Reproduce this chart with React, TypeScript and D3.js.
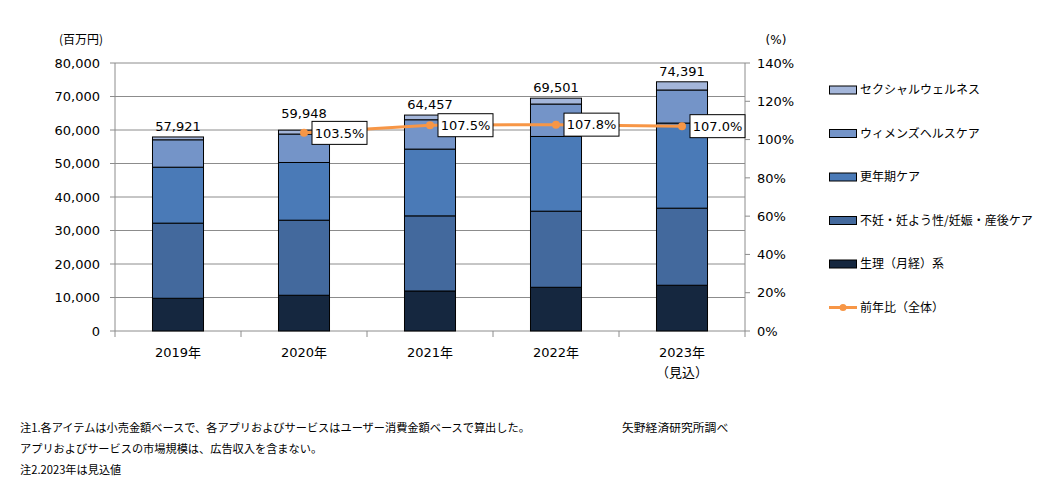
import { useEffect, useRef } from "react";
import * as d3 from "d3";

const YEARS = ["2019年", "2020年", "2021年", "2022年", "2023年"];
const YEAR_SUB = ["", "", "", "", "（見込）"];

const SERIES_NAMES = [
  "生理（月経）系",
  "不妊・妊よう性/妊娠・産後ケア",
  "更年期ケア",
  "ウィメンズヘルスケア",
  "セクシャルウェルネス",
];
const SEIRI = [9770, 10670, 11950, 13050, 13660];
const FUNIN = [22430, 22410, 22420, 22720, 23010];
const KONENKI = [16700, 17220, 19930, 22300, 25400];
const WOMENS = [8180, 8490, 8760, 9680, 9870];
const SEXUAL = [841, 1158, 1397, 1751, 2451];
const TOTALS = ["57,921", "59,948", "64,457", "69,501", "74,391"];
const GROWTH: (number | null)[] = [null, 103.5, 107.5, 107.8, 107.0];
const LINE_NAME = "前年比（全体）";

const COLORS = ["#15273f", "#43699d", "#4a7ab7", "#7494c8", "#a4b6da"];
const ORANGE = "#f79646";
const GRID = "#8c8c8c";

const NOTES = [
  "注1.各アイテムは小売金額ベースで、各アプリおよびサービスはユーザー消費金額ベースで算出した。",
  "アプリおよびサービスの市場規模は、広告収入を含まない。",
  "注2.2023年は見込値",
];
const SOURCE = "矢野経済研究所調べ";

const FONT = "'DejaVu Sans', 'Noto Sans CJK JP', sans-serif";
const JP = "'Noto Sans CJK JP', sans-serif";

export default function App() {
  const ref = useRef<SVGSVGElement>(null);

  useEffect(() => {
    document.body.style.margin = "0";
    if (!ref.current) return;
    const width = 1054;
    const height = 487;
    const plot = { left: 115, right: 745, top: 63, bottom: 331 };

    const svg = d3.select(ref.current);
    svg.selectAll("*").remove();
    svg.attr("width", width).attr("height", height);

    const x = d3.scaleBand().domain(YEARS).range([plot.left, plot.right]);
    const y = d3.scaleLinear().domain([0, 80000]).range([plot.bottom, plot.top]);
    const y2 = d3.scaleLinear().domain([0, 140]).range([plot.bottom, plot.top]);
    const barW = x.bandwidth() * 0.405;

    // gridlines
    svg
      .append("g")
      .selectAll("line")
      .data(y.ticks(8))
      .join("line")
      .attr("x1", plot.left - 5)
      .attr("x2", plot.right)
      .attr("y1", (d) => y(d))
      .attr("y2", (d) => y(d))
      .attr("stroke", GRID)
      .attr("stroke-width", 1);

    // axes lines
    svg.append("line").attr("x1", plot.left).attr("x2", plot.left).attr("y1", plot.top).attr("y2", plot.bottom + 6).attr("stroke", GRID);
    svg.append("line").attr("x1", plot.right).attr("x2", plot.right).attr("y1", plot.top).attr("y2", plot.bottom + 6).attr("stroke", GRID);

    // x ticks at band boundaries
    svg
      .append("g")
      .selectAll("line")
      .data(YEARS.slice(1))
      .join("line")
      .attr("x1", (d) => x(d) ?? 0)
      .attr("x2", (d) => x(d) ?? 0)
      .attr("y1", plot.bottom)
      .attr("y2", plot.bottom + 6)
      .attr("stroke", GRID);

    // right ticks
    svg
      .append("g")
      .selectAll("line")
      .data(d3.range(0, 141, 20))
      .join("line")
      .attr("x1", plot.right)
      .attr("x2", plot.right + 5)
      .attr("y1", (d) => y2(d))
      .attr("y2", (d) => y2(d))
      .attr("stroke", GRID);

    // left tick labels
    svg
      .append("g")
      .selectAll("text")
      .data(y.ticks(8))
      .join("text")
      .attr("x", plot.left - 15)
      .attr("y", (d) => y(d))
      .attr("dy", "0.36em")
      .attr("text-anchor", "end")
      .attr("font-family", FONT)
      .attr("font-size", 13)
      .attr("fill", "#000")
      .text((d) => d3.format(",")(d));

    // right tick labels
    svg
      .append("g")
      .selectAll("text")
      .data(d3.range(0, 141, 20))
      .join("text")
      .attr("x", plot.right + 12)
      .attr("y", (d) => y2(d))
      .attr("dy", "0.36em")
      .attr("font-family", FONT)
      .attr("font-size", 13)
      .attr("fill", "#000")
      .text((d) => `${d}%`);

    svg.append("text").attr("x", 81).attr("y", 44).attr("text-anchor", "middle").attr("font-family", JP).attr("font-size", 12).text("(百万円)");
    svg.append("text").attr("x", 776).attr("y", 44).attr("text-anchor", "middle").attr("font-family", FONT).attr("font-size", 12).text("(%)");

    // x labels
    const xl = svg.append("g").attr("font-family", FONT).attr("font-size", 13).attr("text-anchor", "middle");
    xl.selectAll("text.yr")
      .data(YEARS)
      .join("text")
      .attr("class", "yr")
      .attr("x", (d) => (x(d) ?? 0) + x.bandwidth() / 2)
      .attr("y", 357)
      .text((d) => d);
    xl.selectAll("text.sub")
      .data(YEAR_SUB)
      .join("text")
      .attr("class", "sub")
      .attr("x", (_, i) => (x(YEARS[i]) ?? 0) + x.bandwidth() / 2)
      .attr("y", 377)
      .text((d) => d);

    // stacked bars
    const values = [SEIRI, FUNIN, KONENKI, WOMENS, SEXUAL];
    const rows = YEARS.map((yr, i) => {
      const r: Record<string, number | string> = { year: yr };
      SERIES_NAMES.forEach((n, k) => (r[n] = values[k][i]));
      return r;
    });
    const stack = d3.stack<Record<string, number | string>>().keys(SERIES_NAMES)(rows);

    svg
      .append("g")
      .selectAll("g")
      .data(stack)
      .join("g")
      .attr("fill", (_, i) => COLORS[i])
      .selectAll("rect")
      .data((d) => d)
      .join("rect")
      .attr("x", (d) => (x(d.data.year as string) ?? 0) + (x.bandwidth() - barW) / 2)
      .attr("width", barW)
      .attr("y", (d) => y(d[1]))
      .attr("height", (d) => y(d[0]) - y(d[1]))
      .attr("stroke", "#000")
      .attr("stroke-width", 1);

    // totals: sit just above the bar, but clear of a growth label box
    const tops = stack[stack.length - 1];
    const labelY = (d: d3.SeriesPoint<Record<string, number | string>>, i: number) => {
      let yy = y(d[1]) - 6;
      const g = GROWTH[i];
      if (g !== null) yy = Math.min(yy, y2(g) - 15);
      return yy;
    };
    svg
      .append("g")
      .selectAll("text")
      .data(tops)
      .join("text")
      .attr("x", (d) => (x(d.data.year as string) ?? 0) + x.bandwidth() / 2)
      .attr("y", labelY)
      .attr("text-anchor", "middle")
      .attr("font-family", FONT)
      .attr("font-size", 13)
      .text((_, i) => TOTALS[i]);

    // growth line
    const pts = YEARS.map((yr, i) => ({ yr, v: GROWTH[i] })).filter((p) => p.v !== null) as { yr: string; v: number }[];
    const cx = (p: { yr: string }) => (x(p.yr) ?? 0) + x.bandwidth() / 2;
    svg
      .append("path")
      .datum(pts)
      .attr("d", d3.line<{ yr: string; v: number }>().x(cx).y((d) => y2(d.v)))
      .attr("fill", "none")
      .attr("stroke", ORANGE)
      .attr("stroke-width", 3);
    svg
      .append("g")
      .selectAll("circle")
      .data(pts)
      .join("circle")
      .attr("cx", cx)
      .attr("cy", (d) => y2(d.v))
      .attr("r", 4)
      .attr("fill", ORANGE);

    const lbl = svg.append("g").selectAll("g").data(pts).join("g");
    lbl
      .append("rect")
      .attr("x", (d) => cx(d) + 8)
      .attr("y", (d) => y2(d.v) - 11.5)
      .attr("width", 55)
      .attr("height", 23)
      .attr("fill", "#fff")
      .attr("stroke", "#000");
    lbl
      .append("text")
      .attr("x", (d) => cx(d) + 35.5)
      .attr("y", (d) => y2(d.v))
      .attr("dy", "0.36em")
      .attr("text-anchor", "middle")
      .attr("font-family", FONT)
      .attr("font-size", 13)
      .text((d) => `${d.v.toFixed(1)}%`);

    // legend
    const legend = svg.append("g");
    const legItems = [...SERIES_NAMES].reverse();
    const legY = (i: number) => 90 + i * 43.5;
    legItems.forEach((name, i) => {
      const k = SERIES_NAMES.indexOf(name);
      legend
        .append("rect")
        .attr("x", 829.5)
        .attr("y", legY(i) - 4)
        .attr("width", 27)
        .attr("height", 8)
        .attr("fill", COLORS[k])
        .attr("stroke", "#000");
      legend
        .append("text")
        .attr("x", 860)
        .attr("y", legY(i))
        .attr("dy", "0.36em")
        .attr("font-family", JP)
        .attr("font-size", 12)
        .text(name);
    });
    const ly = legY(5);
    legend.append("line").attr("x1", 829).attr("x2", 857).attr("y1", ly).attr("y2", ly).attr("stroke", ORANGE).attr("stroke-width", 3);
    legend.append("circle").attr("cx", 843).attr("cy", ly).attr("r", 3.5).attr("fill", ORANGE);
    legend.append("text").attr("x", 860).attr("y", ly).attr("dy", "0.36em").attr("font-family", JP).attr("font-size", 12).text(LINE_NAME);

    // notes
    const notes = svg.append("g").attr("font-family", JP).attr("fill", "#000");
    notes
      .selectAll("text")
      .data(NOTES)
      .join("text")
      .attr("x", 20)
      .attr("y", (_, i) => [432, 453, 474][i])
      .attr("font-size", 11.2)
      .text((d) => d);
    notes.append("text").attr("x", 622).attr("y", 432).attr("font-size", 11.8).text(SOURCE);
  }, []);

  return (
    <div>
      <svg ref={ref} style={{ display: "block" }} />
    </div>
  );
}
